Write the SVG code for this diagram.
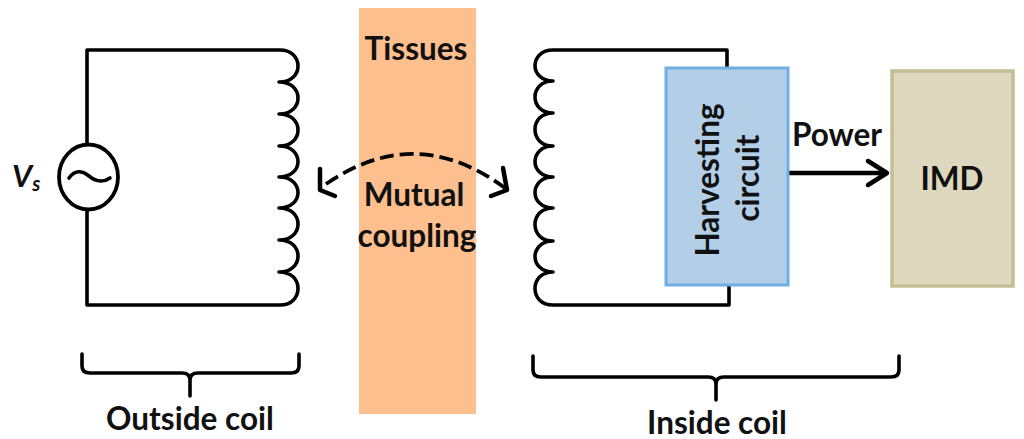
<svg xmlns="http://www.w3.org/2000/svg" width="1024" height="439" viewBox="0 0 1024 439">
<style>
.w{fill:none;stroke:#000;stroke-width:3.6;stroke-linejoin:round;stroke-linecap:round}
.h{stroke-width:4.500}
.t{font-family:"Lato","Open Sans",sans-serif;font-weight:700;font-size:31.500px;fill:#111;text-anchor:middle}
</style>
<rect width="1024" height="439" fill="#fff"/>
<g id="tissues"><rect x="359" y="8" width="117" height="406" fill="#fdbf8e"/><text class="t" x="416" y="60">Tissues</text></g>
<g id="connectors">
<path class="w" d="M87 143V50H280C292 50 298 58 298 66C298 74 292 82 279 82C292 82 298 90 298 98C298 106 292 114 279 114C292 114 298 122 298 130C298 138 292 146 279 146C292 146 298 154 298 161.500C298 169 292 177 279 177C292 177 298 185 298 192.500C298 200 292 208 279 208C292 208 298 216 298 224C298 232 292 240 279 240C292 240 298 248 298 256C298 264 292 272 279 272C292 272 298 280 298 288.500C298 297 292 305 280 305H87V210"/>
<path class="w" d="M727 68V50H553C541 50 535 58 535 65.500C535 73 541 81 553 81C541 81 535 89 535 97C535 105 541 113 553 113C541 113 535 121 535 129.500C535 138 541 146 553 146C541 146 535 154 535 161.500C535 169 541 177 553 177C541 177 535 185 535 192.500C535 200 541 208 553 208C541 208 535 216 535 224.500C535 233 541 241 553 241C541 241 535 249 535 256.500C535 264 541 272 553 272C541 272 535 280 535 288.500C535 297 541 305 553 305H729V285"/>
<path d="M326 184Q416 122 505 188" fill="none" stroke="#000" stroke-width="3.800" stroke-dasharray="14 6"/>
<path class="w h" d="M320 169V190L335 196M503 168L507 190L491 196"/>
<path class="w h" d="M788 173H886M868 161L887 173L868 185"/>
</g>
<g id="source"><ellipse cx="88.500" cy="177" rx="29.500" ry="32.500" fill="#fff" stroke="#000" stroke-width="3.800"/>
<path class="w" d="M69 178C76 168 84 172 89 176C95 181 103 183 110 178"/>
<text x="12" y="187" style="font-family:Lato,sans-serif;font-weight:700;font-style:italic;font-size:31px" fill="#111">V<tspan font-size="20" dy="4">s</tspan></text></g>
<g id="harvesting"><rect x="666" y="68" width="122" height="217" fill="#b3cee7" stroke="#70ade2" stroke-width="3"/>
<text class="t" transform="translate(719 180) rotate(-90)">Harvesting</text><text class="t" transform="translate(759 178) rotate(-90)">circuit</text></g>
<g id="imd"><rect x="892" y="71" width="121" height="215" fill="#ded8bf" stroke="#c6bd97" stroke-width="3.500"/><text class="t" x="952" y="190">IMD</text></g>
<text class="t" x="837" y="146">Power</text>
<text class="t" x="414" y="206">Mutual</text>
<text class="t" x="417" y="247">coupling</text>
<g id="outside-brace"><path class="w" d="M82 354V366Q82 373 90 373H182Q190 373 190 380V396M190 380Q190 373 198 373H291Q299 373 299 366V354"/><text class="t" x="190" y="430">Outside coil</text></g>
<g id="inside-brace"><path class="w" d="M533 356V370Q533 377 541 377H708Q716 377 716 384V400M716 384Q716 377 724 377H891Q899 377 899 370V356"/><text class="t" x="717" y="434">Inside coil</text></g>
</svg>
